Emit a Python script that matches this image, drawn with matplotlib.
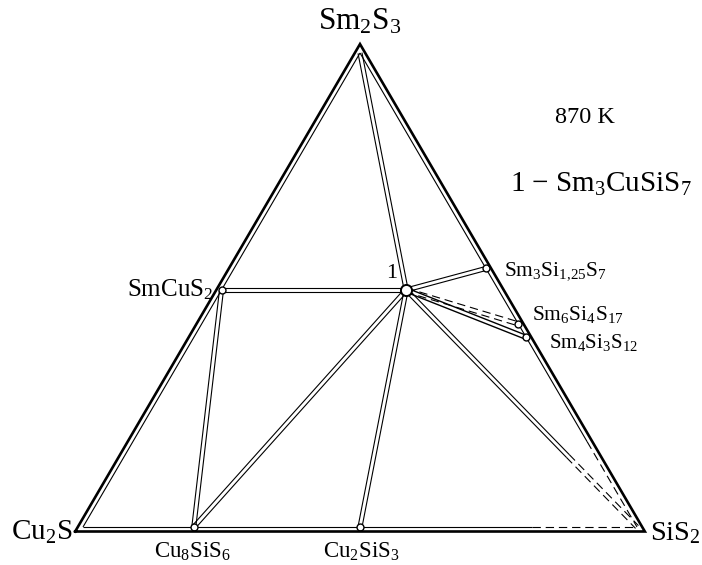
import numpy as np
import matplotlib
matplotlib.use("Agg")
import matplotlib.pyplot as plt

# Составы соединений: мольные доли (Cu2S, Sm2S3, SiS2)
names = ["Cu2S", "Sm2S3", "SiS2", "SmCuS2", "1", "Sm3Si1.25S7",
         "Sm6Si4S17", "Sm4Si3S12", "Cu8SiS6", "Cu2SiS3"]
part_cu2s = [1, 0, 0, 1, 0.5, 0, 0, 0, 4, 1]
part_sm2s3 = [0, 1, 0, 1, 1.5, 1.5, 3, 2, 0, 0]
part_sis2 = [0, 0, 1, 0, 1, 1.25, 4, 3, 1, 1]

# Коноды (пары фаз)
ties_solid = [("Sm2S3", "1"), ("SmCuS2", "1"), ("SmCuS2", "Cu8SiS6"),
              ("1", "Cu8SiS6"), ("1", "Cu2SiS3"), ("1", "Sm3Si1.25S7"),
              ("1", "Sm4Si3S12")]
ties_dashed = [("1", "Sm6Si4S17")]
ties_partial = [("1", "SiS2", 0.70)]  # сплошная до доли длины, дальше пунктир

labels = {
    "Sm2S3": r"Sm$_2$S$_3$", "Cu2S": r"Cu$_2$S", "SiS2": r"SiS$_2$",
    "SmCuS2": r"SmCuS$_2$", "Sm3Si1.25S7": r"Sm$_3$Si$_{1{,}25}$S$_7$",
    "Sm6Si4S17": r"Sm$_6$Si$_4$S$_{17}$", "Sm4Si3S12": r"Sm$_4$Si$_3$S$_{12}$",
    "Cu8SiS6": r"Cu$_8$SiS$_6$", "Cu2SiS3": r"Cu$_2$SiS$_3$",
}

plt.rcParams['font.family'] = ['Liberation Serif', 'DejaVu Serif']
plt.rcParams['mathtext.fontset'] = 'custom'
plt.rcParams['mathtext.rm'] = 'Liberation Serif'
plt.rcParams['mathtext.it'] = 'Liberation Serif:italic'
plt.rcParams['mathtext.default'] = 'regular'
plt.rcParams['lines.scale_dashes'] = False

# Вершины треугольника составов (в пикселях)
V_CU = np.array([83.0, 527.0])
V_SM = np.array([360.0, 53.0])
V_SI = np.array([637.0, 527.0])


def tern(a, b, c):
    s = a + b + c
    return (a * V_CU + b * V_SM + c * V_SI) / s


pts = {n: tern(a, b, c) for n, a, b, c in zip(names, part_cu2s, part_sm2s3, part_sis2)}

fig = plt.figure(figsize=(7.02, 5.65), dpi=100)
ax = fig.add_axes([0, 0, 1, 1])
ax.set_xlim(0, 702)
ax.set_ylim(565, 0)
ax.axis('off')

THIN = 0.8
DASH = (0, (6, 3.5))
GAP = 2.0


def seg(p, q, ls='-', lw=THIN, z=2):
    ax.plot([p[0], q[0]], [p[1], q[1]], color='black', lw=lw, ls=ls,
            solid_capstyle='butt', dash_capstyle='butt', zorder=z)


def double(p, q, ls='-', lw=THIN, split=None):
    d = q - p
    n = np.array([-d[1], d[0]]) / np.hypot(*d) * GAP
    for s in (1, -1):
        a, b = p + s * n, q + s * n
        if split is None:
            seg(a, b, ls, lw)
        else:
            m = a + (b - a) * split
            seg(a, m, '-', lw)
            seg(m, b, DASH, lw)


for u, v in ties_solid:
    double(pts[u], pts[v], lw=1.0 if v == "Sm4Si3S12" else THIN)
for u, v in ties_dashed:
    double(pts[u], pts[v], ls=DASH)
for u, v, f in ties_partial:
    double(pts[u], pts[v], split=f)

# внутренний контур треугольника
seg(V_CU, V_SM, z=3)
m = V_SM + (V_SI - V_SM) * 0.82
seg(V_SM, m, z=3)
seg(m, V_SI, DASH, z=3)
m = V_CU + (V_SI - V_CU) * 0.81
seg(V_CU, m, z=3)
seg(m, V_SI, DASH, z=3)

# внешний толстый контур (смещение наружу)
la = np.hypot(*(V_SM - V_SI))
lb = np.hypot(*(V_CU - V_SI))
lc = np.hypot(*(V_CU - V_SM))
inc = (la * V_CU + lb * V_SM + lc * V_SI) / (la + lb + lc)
area = abs(np.cross(V_SM - V_CU, V_SI - V_CU)) / 2
r_in = 2 * area / (la + lb + lc)
k = (r_in + 4.5) / r_in
outer = np.array([inc + (v - inc) * k for v in (V_CU, V_SM, V_SI, V_CU)])
ax.plot(outer[:, 0], outer[:, 1], color='black', lw=1.9, zorder=4,
        solid_joinstyle='miter')

# точки фаз
for n in ["SmCuS2", "Sm3Si1.25S7", "Sm6Si4S17", "Sm4Si3S12", "Cu8SiS6", "Cu2SiS3"]:
    ax.plot(*pts[n], 'o', ms=5, mfc='white', mec='black', mew=1.0, zorder=3.5)
ax.plot(*pts["1"], 'o', ms=8, mfc='white', mec='black', mew=1.4, zorder=5)

ax.text(360, 29, labels["Sm2S3"], fontsize=22.5, ha='center', va='baseline')
ax.text(73, 540, labels["Cu2S"], fontsize=21, ha='right', va='baseline')
ax.text(650, 540, labels["SiS2"], fontsize=20.5, ha='left', va='baseline')
ax.text(192, 558, labels["Cu8SiS6"], fontsize=16.5, ha='center', va='baseline')
ax.text(361, 558, labels["Cu2SiS3"], fontsize=16.5, ha='center', va='baseline')
ax.text(213, 296, labels["SmCuS2"], fontsize=18, ha='right', va='baseline')
ax.text(392, 278, "1", fontsize=16, ha='center', va='baseline')
ax.text(504, 275, labels["Sm3Si1.25S7"], fontsize=15.5, ha='left', va='baseline')
ax.text(532, 320, labels["Sm6Si4S17"], fontsize=15.5, ha='left', va='baseline')
ax.text(549, 348, labels["Sm4Si3S12"], fontsize=15, ha='left', va='baseline')
ax.text(585, 123, "870 K", fontsize=17.5, ha='center', va='baseline')
ax.text(510, 192, r"1 − Sm$_3$CuSiS$_7$", fontsize=21, ha='left', va='baseline')

fig.savefig("out.png", dpi=100)
